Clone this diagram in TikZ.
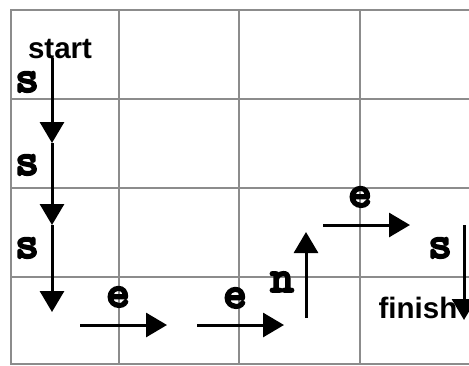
\documentclass[tikz,border=0pt]{standalone}
\usepackage{fontspec}
\setmainfont{Liberation Sans}
\newfontfamily\dirfont{lmmonolt10-bold}[Extension=.otf, FakeBold=3.5]
\usetikzlibrary{arrows.meta}
\tikzset{
  gridline/.style={draw=black!45, line width=2pt},
  move/.style={line width=3pt, -{Triangle[width=24pt,length=21pt]}},
  dirlabel/.style={font=\dirfont\fontsize{46}{46}\selectfont, inner sep=0pt, anchor=base},
  endlabel/.style={font=\bfseries\fontsize{29.5}{29.5}\selectfont, inner sep=0pt, anchor=base}
}
\begin{document}
\begin{tikzpicture}[x=1pt,y=-1pt]
\useasboundingbox (0,0) rectangle (469,365);
% grid
\foreach \x in {11,119,239,360} \draw[gridline] (\x,9) -- (\x,364);
\foreach \y in {10,99,188,277,364} \draw[gridline] (10,\y) -- (469,\y);
% labels
\node[endlabel] (start) at (60,58) {start};
\node[endlabel] (finish) at (418,318) {finish};
\node[dirlabel] (s1) at (27,92) {s};
\node[dirlabel] (s2) at (27,175) {s};
\node[dirlabel] (s3) at (27,258) {s};
\node[dirlabel] (e1) at (118,307) {e};
\node[dirlabel] (e2) at (235,308) {e};
\node[dirlabel] (n1) at (282,292) {n};
\node[dirlabel] (e3) at (360,207) {e};
\node[dirlabel] (s4) at (440,258) {s};
% path points
\coordinate (a0) at (52,58);
\coordinate (a1) at (52,143);
\coordinate (a2) at (52,225);
\coordinate (a3) at (52,312);
\coordinate (b0) at (80,325);
\coordinate (b1) at (167,325);
\coordinate (c0) at (197,325);
\coordinate (c1) at (284,325);
\coordinate (d0) at (306,318);
\coordinate (d1) at (306,232);
\coordinate (f0) at (323,225);
\coordinate (f1) at (410,225);
\coordinate (g0) at (464,225);
\coordinate (g1) at (464,320);
% moves
\draw[move] (a0) -- (a1);
\draw[move] (a1) -- (a2);
\draw[move] (a2) -- (a3);
\draw[move] (b0) -- (b1);
\draw[move] (c0) -- (c1);
\draw[move] (d0) -- (d1);
\draw[move] (f0) -- (f1);
\draw[move] (g0) -- (g1);
\end{tikzpicture}
\end{document}
